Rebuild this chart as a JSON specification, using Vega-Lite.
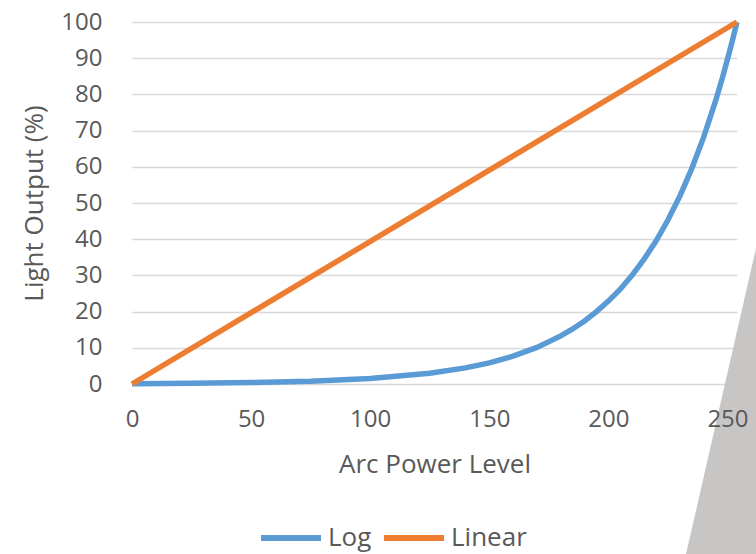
{
  "$schema": "https://vega.github.io/schema/vega-lite/v6.json",
  "autosize": "none",
  "width": 605,
  "height": 362,
  "padding": {"left": 132, "top": 22, "right": 19, "bottom": 170},
  "background": "white",
  "datasets": {
    "curves": [
      {"level": 0, "output": 0, "series": "Log"},
      {"level": 1, "output": 0.1, "series": "Log"},
      {"level": 25, "output": 0.19, "series": "Log"},
      {"level": 50, "output": 0.38, "series": "Log"},
      {"level": 75, "output": 0.75, "series": "Log"},
      {"level": 100, "output": 1.49, "series": "Log"},
      {"level": 125, "output": 2.95, "series": "Log"},
      {"level": 140, "output": 4.45, "series": "Log"},
      {"level": 150, "output": 5.85, "series": "Log"},
      {"level": 160, "output": 7.68, "series": "Log"},
      {"level": 170, "output": 10.1, "series": "Log"},
      {"level": 180, "output": 13.3, "series": "Log"},
      {"level": 185, "output": 15.2, "series": "Log"},
      {"level": 190, "output": 17.4, "series": "Log"},
      {"level": 195, "output": 20.0, "series": "Log"},
      {"level": 200, "output": 22.9, "series": "Log"},
      {"level": 205, "output": 26.2, "series": "Log"},
      {"level": 210, "output": 30.1, "series": "Log"},
      {"level": 215, "output": 34.5, "series": "Log"},
      {"level": 220, "output": 39.5, "series": "Log"},
      {"level": 225, "output": 45.3, "series": "Log"},
      {"level": 230, "output": 51.9, "series": "Log"},
      {"level": 235, "output": 59.5, "series": "Log"},
      {"level": 240, "output": 68.2, "series": "Log"},
      {"level": 245, "output": 78.2, "series": "Log"},
      {"level": 248, "output": 84.9, "series": "Log"},
      {"level": 250, "output": 89.7, "series": "Log"},
      {"level": 252, "output": 94.7, "series": "Log"},
      {"level": 254, "output": 100, "series": "Log"},
      {"level": 0, "output": 0, "series": "Linear"},
      {"level": 254, "output": 100, "series": "Linear"}
    ],
    "shade": [
      {"level": 232.6, "output": -47, "base": -47},
      {"level": 262, "output": 37.6, "base": -47}
    ]
  },
  "encoding": {
    "x": {
      "field": "level",
      "type": "quantitative",
      "scale": {"domain": [0, 254], "nice": false},
      "axis": {
        "title": "Arc Power Level",
        "values": [0, 50, 100, 150, 200, 250],
        "grid": false,
        "ticks": false,
        "domain": false,
        "labelOverlap": false,
        "labelFlush": false,
        "labelPadding": 23,
        "titlePadding": 20,
        "zindex": 1
      }
    },
    "y": {
      "field": "output",
      "type": "quantitative",
      "scale": {"domain": [0, 100], "nice": false},
      "axis": {
        "title": "Light Output (%)",
        "values": [0, 10, 20, 30, 40, 50, 60, 70, 80, 90, 100],
        "grid": true,
        "ticks": false,
        "domain": false,
        "labelOverlap": false,
        "labelFlush": false,
        "labelPadding": 30,
        "titlePadding": 13
      }
    }
  },
  "layer": [
    {
      "data": {"name": "shade"},
      "mark": {"type": "area", "color": "#c8c6c5", "clip": false, "opacity": 1},
      "encoding": {
        "y2": {"field": "base"}
      }
    },
    {
      "data": {"name": "curves"},
      "mark": {"type": "line", "strokeWidth": 5.5},
      "encoding": {
        "color": {
          "field": "series",
          "type": "nominal",
          "sort": ["Log", "Linear"],
          "scale": {"domain": ["Log", "Linear"], "range": ["#5b9bd5", "#ed7d31"]},
          "legend": {
            "title": null,
            "orient": "none",
            "direction": "horizontal",
            "legendX": 126,
            "legendY": 483,
            "symbolType": "stroke",
            "symbolSize": 3600,
            "symbolStrokeWidth": 6,
            "labelOffset": 4,
            "columnPadding": 0
          }
        },
        "order": {"field": "series", "sort": "descending"}
      }
    }
  ],
  "config": {
    "font": "Open Sans",
    "view": {"stroke": null},
    "axis": {
      "labelFont": "Open Sans",
      "titleFont": "Open Sans",
      "labelFontSize": 24,
      "titleFontSize": 26,
      "labelColor": "#595959",
      "titleColor": "#595959",
      "titleFontWeight": "normal",
      "gridColor": "#d9d9d9",
      "gridWidth": 1.5
    },
    "legend": {
      "labelFont": "Open Sans",
      "labelFontSize": 26,
      "labelColor": "#595959"
    }
  }
}
